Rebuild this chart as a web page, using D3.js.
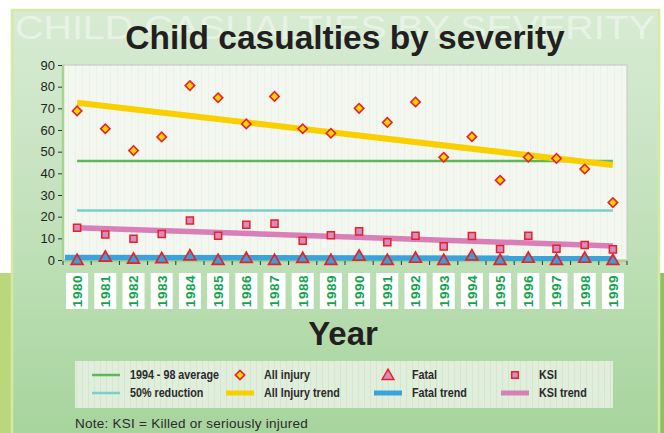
<!DOCTYPE html>
<html>
<head>
<meta charset="utf-8">
<script src="https://cdn.jsdelivr.net/npm/d3@7"></script>
<style>
  html, body { margin: 0; padding: 0; background: #ffffff; }
  svg { display: block; }
</style>
</head>
<body>
<svg id="chart" width="664" height="433"></svg>
<script>
// ---- data ----
const years = ["1980","1981","1982","1983","1984","1985","1986","1987","1988","1989",
               "1990","1991","1992","1993","1994","1995","1996","1997","1998","1999"];
const allInjury = [68.8, 60.6, 50.5, 56.8, 80.5, 74.9, 62.8, 75.5, 60.6, 58.5,
                   70.0, 63.5, 72.9, 47.4, 56.9, 36.8, 47.4, 46.9, 42.0, 26.5];
const ksi = [14.9, 11.8, 9.8, 12.0, 18.2, 11.2, 16.3, 16.8, 8.9, 11.4,
             13.2, 8.2, 11.2, 6.3, 11.1, 5.1, 11.2, 5.2, 6.9, 4.9];
const fatal = [0, 1.5, 0.6, 0.8, 2.1, 0, 0.9, 0, 0.9, 0,
               2.0, 0, 1.0, 0, 2.1, 0, 1.0, 0, 1.0, 0];
const allInjuryTrend = [72.6, 43.8];   // 1980 -> 1999
const ksiTrend = [14.9, 6.5];
const fatalTrend = [1.1, 0.8];
const average9498 = [45.7, 45.7];
const reduction50 = [22.8, 22.8];
const yTicks = [0, 10, 20, 30, 40, 50, 60, 70, 80, 90];

// ---- setup ----
const svg = d3.select("#chart");
const W = 664, H = 433;
const plot = { left: 63, right: 627, top: 65, bottom: 260 };

const x = d3.scaleBand().domain(years).range([plot.left, plot.right]).padding(0);
const y = d3.scaleLinear().domain([0, 90]).range([plot.bottom, plot.top]);
const cx = d => x(d) + x.bandwidth() / 2;

const defs = svg.append("defs");
const grad = defs.append("linearGradient").attr("id", "panelGrad")
  .attr("x1", 0).attr("y1", 0).attr("x2", 0).attr("y2", 1);
grad.append("stop").attr("offset", "0%").attr("stop-color", "#d8ebd4");
grad.append("stop").attr("offset", "55%").attr("stop-color", "#bfe0b8");
grad.append("stop").attr("offset", "100%").attr("stop-color", "#a6d49c");

const pat = defs.append("pattern").attr("id", "stripes").attr("patternUnits", "userSpaceOnUse")
  .attr("width", 7).attr("height", 10);
pat.append("rect").attr("width", 7).attr("height", 10).attr("fill", "#f3f7f0");
pat.append("rect").attr("x", 5).attr("width", 1).attr("height", 10).attr("fill", "#eaf1e5");

const pat2 = defs.append("pattern").attr("id", "stripes2").attr("patternUnits", "userSpaceOnUse")
  .attr("width", 6).attr("height", 10);
pat2.append("rect").attr("width", 6).attr("height", 10).attr("fill", "#e6f0e2");
pat2.append("rect").attr("x", 4).attr("width", 1).attr("height", 10).attr("fill", "#d9e8d4");

// ---- outer decoration ----
svg.append("rect").attr("x", 0).attr("y", 0).attr("width", W).attr("height", H).attr("fill", "#ffffff");
svg.append("rect").attr("x", 0).attr("y", 273).attr("width", 12).attr("height", H - 273).attr("fill", "#b9d77b");
svg.append("rect").attr("x", 660).attr("y", 273).attr("width", 4).attr("height", H - 273).attr("fill", "#8dc064");
svg.append("rect").attr("x", 12).attr("y", 10).attr("width", 647).attr("height", H - 10 + 5)
  .attr("fill", "url(#panelGrad)").attr("stroke", "#d6e9a2").attr("stroke-width", 2.5);

// watermark
svg.append("text").attr("x", 15).attr("y", 39)
  .attr("textLength", 640).attr("lengthAdjust", "spacingAndGlyphs")
  .attr("font-family", "Liberation Sans, Arial, sans-serif").attr("font-size", 34)
  .attr("fill", "#ffffff").attr("fill-opacity", 0.45)
  .text("CHILD CASUALTIES BY SEVERITY");

// title
svg.append("text").attr("x", 345).attr("y", 49).attr("text-anchor", "middle")
  .attr("font-family", "Liberation Sans, Arial, sans-serif").attr("font-weight", "bold")
  .attr("font-size", 33.5).attr("fill", "#231f20")
  .text("Child casualties by severity");

// ---- plot area ----
svg.append("rect").attr("x", plot.left).attr("y", plot.top)
  .attr("width", plot.right - plot.left).attr("height", plot.bottom - plot.top)
  .attr("fill", "url(#stripes)").attr("stroke", "#c4c8c2").attr("stroke-width", 1);
svg.append("line").attr("x1", plot.left).attr("x2", plot.left).attr("y1", plot.top).attr("y2", plot.bottom + 1)
  .attr("stroke", "#a6d38f").attr("stroke-width", 2.5);
svg.append("line").attr("x1", plot.left).attr("x2", plot.right).attr("y1", plot.bottom + 1).attr("y2", plot.bottom + 1)
  .attr("stroke", "#a6d38f").attr("stroke-width", 2.5);

// y axis
const yAxis = svg.append("g").attr("transform", `translate(${plot.left - 1},0)`)
  .call(d3.axisLeft(y).tickValues(yTicks).tickSize(4).tickPadding(3));
yAxis.select(".domain").remove();
yAxis.selectAll(".tick line").attr("stroke", "#333");
yAxis.selectAll(".tick text").attr("font-family", "Liberation Sans, Arial, sans-serif")
  .attr("font-size", 13).attr("fill", "#231f20");

// x axis ticks at band boundaries
const xAxis = svg.append("g").attr("transform", `translate(0,${plot.bottom + 1})`)
  .call(d3.axisBottom(x).tickSize(4).tickFormat(""));
xAxis.select(".domain").remove();
xAxis.selectAll(".tick").attr("transform", d => `translate(${x(d)},0)`);
xAxis.selectAll(".tick line").attr("stroke", "#333");
xAxis.append("line").attr("x1", plot.right).attr("x2", plot.right).attr("y1", 0).attr("y2", 4).attr("stroke", "#333");

// ---- reference lines ----
const first = years[0], last = years[years.length - 1];
function seg(vals, color, width, startAtEdge) {
  svg.append("line")
    .attr("x1", startAtEdge ? x(first) + 2 : cx(first)).attr("x2", cx(last))
    .attr("y1", y(vals[0])).attr("y2", y(vals[1]))
    .attr("stroke", color).attr("stroke-width", width);
}
seg(average9498, "#5cb85a", 2.5);
seg(reduction50, "#79cfcc", 2.5);
seg(allInjuryTrend, "#f9cf00", 6);
seg(ksiTrend, "#d87fb8", 5.5);
seg(fatalTrend, "#3aa3dc", 5.5, true);

// ---- markers ----
const diamondSym = d3.symbol().type(d3.symbolSquare).size(44);
const squareSym = d3.symbol().type(d3.symbolSquare).size(50);
const triangleSym = d3.symbol().type(d3.symbolTriangle).size(60);

svg.append("g").selectAll("path").data(allInjury).join("path")
  .attr("d", diamondSym)
  .attr("transform", (d, i) => `translate(${cx(years[i])},${y(d)}) rotate(45)`)
  .attr("fill", "#ffd200").attr("stroke", "#e8202a").attr("stroke-width", 1.6);

svg.append("g").selectAll("path").data(ksi).join("path")
  .attr("d", squareSym)
  .attr("transform", (d, i) => `translate(${cx(years[i])},${y(d)})`)
  .attr("fill", "#d58cc0").attr("stroke", "#e8202a").attr("stroke-width", 1.5);

svg.append("g").selectAll("path").data(fatal).join("path")
  .attr("d", triangleSym)
  .attr("transform", (d, i) => `translate(${cx(years[i])},${y(d) + 1})`)
  .attr("fill", "#3a9fd8").attr("stroke", "#e8202a").attr("stroke-width", 1.7);

// ---- year labels ----
const yl = svg.append("g").selectAll("g").data(years).join("g")
  .attr("transform", d => `translate(${cx(d)},${291})`);
yl.append("rect").attr("x", -11).attr("y", -18).attr("width", 22).attr("height", 36).attr("fill", "#ffffff");
yl.append("text").attr("transform", "rotate(-90)").attr("text-anchor", "middle").attr("dy", "0.36em")
  .attr("font-family", "Liberation Sans, Arial, sans-serif").attr("font-weight", "bold")
  .attr("font-size", 13.5).attr("letter-spacing", 0.6).attr("fill", "#14a34f")
  .text(d => d);

// x title
svg.append("text").attr("x", 343).attr("y", 345).attr("text-anchor", "middle")
  .attr("font-family", "Liberation Sans, Arial, sans-serif").attr("font-weight", "bold")
  .attr("font-size", 33).attr("fill", "#231f20").text("Year");

// ---- legend ----
const lg = svg.append("g");
lg.append("rect").attr("x", 75).attr("y", 361).attr("width", 538).attr("height", 47)
  .attr("fill", "url(#stripes2)").attr("fill-opacity", 0.9);

const legendItems = [
  { col: 0, row: 0, label: "1994 - 98 average", kind: "line", color: "#5cb85a", w: 2.5 },
  { col: 0, row: 1, label: "50% reduction", kind: "line", color: "#79cfcc", w: 2.5 },
  { col: 1, row: 0, label: "All injury", kind: "diamond" },
  { col: 1, row: 1, label: "All Injury trend", kind: "line", color: "#f9cf00", w: 5 },
  { col: 2, row: 0, label: "Fatal", kind: "triangle" },
  { col: 2, row: 1, label: "Fatal trend", kind: "line", color: "#3aa3dc", w: 5 },
  { col: 3, row: 0, label: "KSI", kind: "square" },
  { col: 3, row: 1, label: "KSI trend", kind: "line", color: "#d87fb8", w: 5 }
];
const colX = [106, 240, 388, 515];
const rowY = [375, 393];
const li = lg.selectAll("g.item").data(legendItems).join("g")
  .attr("transform", d => `translate(${colX[d.col]},${rowY[d.row]})`);
li.filter(d => d.kind === "line").append("line")
  .attr("x1", -14).attr("x2", 14).attr("y1", 0).attr("y2", 0)
  .attr("stroke", d => d.color).attr("stroke-width", d => d.w);
li.filter(d => d.kind === "diamond").append("path")
  .attr("d", diamondSym).attr("transform", "rotate(45)")
  .attr("fill", "#ffd200").attr("stroke", "#e8202a").attr("stroke-width", 1.6);
li.filter(d => d.kind === "triangle").append("path")
  .attr("d", triangleSym).attr("transform", "translate(0,1)")
  .attr("fill", "#d58cc0").attr("stroke", "#e8202a").attr("stroke-width", 1.5);
li.filter(d => d.kind === "square").append("path")
  .attr("d", d3.symbol().type(d3.symbolSquare).size(45))
  .attr("fill", "#d58cc0").attr("stroke", "#e8202a").attr("stroke-width", 1.5);
li.append("text").attr("transform", "translate(24,0) scale(0.86,1)").attr("dy", "0.35em")
  .attr("font-family", "Liberation Sans, Arial, sans-serif").attr("font-weight", "bold")
  .attr("font-size", 12.5).attr("fill", "#2a2a2a").text(d => d.label);

// note
svg.append("text").attr("x", 75).attr("y", 428)
  .attr("font-family", "Liberation Sans, Arial, sans-serif").attr("font-size", 13.5)
  .attr("letter-spacing", 0.25)
  .attr("fill", "#2a2a2a").text("Note: KSI = Killed or seriously injured");
</script>
</body>
</html>
